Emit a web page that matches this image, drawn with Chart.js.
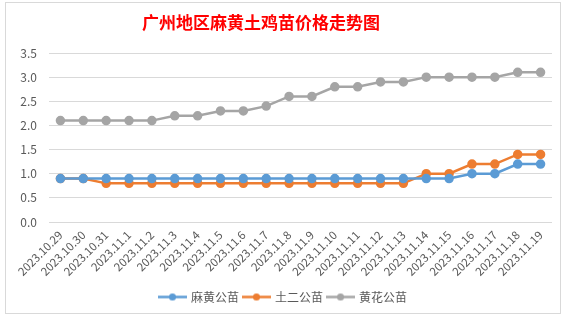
<!DOCTYPE html>
<html><head><meta charset="utf-8">
<script src="https://cdn.jsdelivr.net/npm/chart.js@4/dist/chart.umd.min.js"></script>
<style>
html,body{margin:0;padding:0;width:569px;height:322px;overflow:hidden;background:#fff;}
#wrap{position:absolute;left:5px;top:2px;width:554px;height:310px;border:1px solid #D9D9D9;background:#fff;}
canvas{display:block;}
</style></head><body>
<div id="wrap"><canvas id="c" width="554" height="310"></canvas></div>
<script>
const categories = ["2023.10.29","2023.10.30","2023.10.31","2023.11.1","2023.11.2","2023.11.3","2023.11.4","2023.11.5","2023.11.6","2023.11.7","2023.11.8","2023.11.9","2023.11.10","2023.11.11","2023.11.12","2023.11.13","2023.11.14","2023.11.15","2023.11.16","2023.11.17","2023.11.18","2023.11.19"];
const mahuang = [0.9,0.9,0.9,0.9,0.9,0.9,0.9,0.9,0.9,0.9,0.9,0.9,0.9,0.9,0.9,0.9,0.9,0.9,1.0,1.0,1.2,1.2];
const tuer = [0.9,0.9,0.8,0.8,0.8,0.8,0.8,0.8,0.8,0.8,0.8,0.8,0.8,0.8,0.8,0.8,1.0,1.0,1.2,1.2,1.4,1.4];
const huanghua = [2.1,2.1,2.1,2.1,2.1,2.2,2.2,2.3,2.3,2.4,2.6,2.6,2.8,2.8,2.9,2.9,3.0,3.0,3.0,3.0,3.1,3.1];
const seriesNames = ["麻黄公苗","土二公苗","黄花公苗"];
const titleText = "广州地区麻黄土鸡苗价格走势图";

function marker(color){
  const c = document.createElement('canvas'); c.width = 29; c.height = 9;
  const g = c.getContext('2d');
  g.strokeStyle = color; g.lineWidth = 2.5; g.beginPath(); g.moveTo(0,4.5); g.lineTo(29,4.5); g.stroke();
  g.fillStyle = color; g.beginPath(); g.arc(14.5,4.5,3.6,0,Math.PI*2); g.fill();
  return c;
}
function ds(label, data, color){
  return {label, data, borderColor: color, backgroundColor: color, borderWidth: 2.5,
    pointRadius: 3.5, pointHoverRadius: 3.5, pointBackgroundColor: color, pointBorderColor: color, tension: 0,
    pointStyle: 'circle', legendMarker: marker(color)};
}
const font = "'Noto Sans CJK SC','Noto Sans',sans-serif";
const titlePlugin = {
  id: 'offsetTitle',
  afterDraw(chart){
    const ctx = chart.ctx; ctx.save();
    ctx.font = "bold 17px " + font; ctx.fillStyle = '#FF0000';
    ctx.textAlign = 'center'; ctx.textBaseline = 'middle';
    ctx.fillText(titleText, 255, 20);
    ctx.restore();
  }
};
new Chart(document.getElementById('c'), {
  type: 'line',
  data: { labels: categories, datasets: [
    ds(seriesNames[0], mahuang, '#5B9BD5'),
    ds(seriesNames[1], tuer, '#ED7D31'),
    ds(seriesNames[2], huanghua, '#A5A5A5')
  ]},
  plugins: [titlePlugin],
  options: {
    responsive: false, animation: false, devicePixelRatio: 1,
    layout: { padding: { left: 9, right: 8, top: 50, bottom: 0 } },
    plugins: {
      title: { display: false },
      legend: { position: 'bottom', labels: { usePointStyle: true, pointStyleWidth: 25,
        color: '#595959', font: { family: font, size: 12 }, padding: 5,
        generateLabels: (chart) => chart.data.datasets.map((d, i) => ({
          text: d.label, fillStyle: d.borderColor, strokeStyle: d.borderColor, lineWidth: 0,
          pointStyle: d.legendMarker, datasetIndex: i, hidden: false, fontColor: '#595959'
        })) } },
      tooltip: { enabled: false }
    },
    scales: {
      x: { offset: true, grid: { display: false, drawTicks: false }, border: { display: false },
        afterFit: s => { s.height = 64; },
        ticks: { color: '#595959', font: { family: font, size: 11.5 }, maxRotation: 45, minRotation: 45, autoSkip: false, padding: 6 } },
      y: { min: 0, max: 3.5, grid: { color: '#D9D9D9', drawTicks: false }, border: { display: false },
        afterFit: s => { s.width = 34; },
        ticks: { stepSize: 0.5, color: '#595959', font: { family: font, size: 12 }, padding: 12,
          callback: v => Number(v).toFixed(1) } }
    }
  }
});
</script></body></html>
